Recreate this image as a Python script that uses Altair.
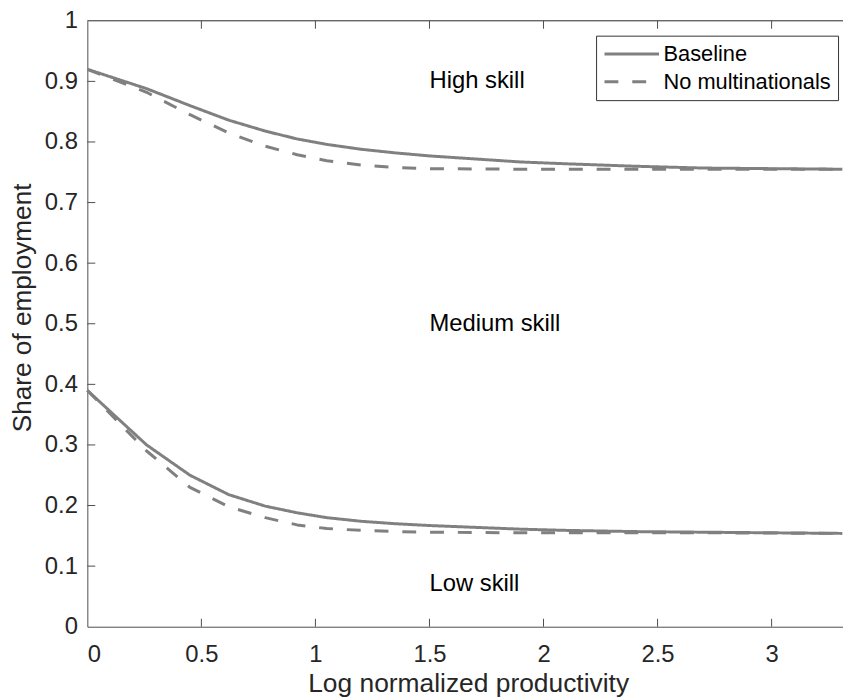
import altair as alt
import pandas as pd

# ---------------- data ----------------
x_grid = [0, 0.26, 0.45, 0.62, 0.78, 0.92, 1.05, 1.2, 1.35, 1.5, 1.7, 1.9,
          2.1, 2.4, 2.7, 3.0, 3.31]
high_baseline = [0.920, 0.888, 0.860, 0.836, 0.818, 0.805, 0.796, 0.788, 0.782,
                 0.777, 0.772, 0.767, 0.764, 0.760, 0.757, 0.756, 0.755]
high_no_mnc = [0.920, 0.882, 0.845, 0.815, 0.793, 0.779, 0.769, 0.762, 0.758,
               0.756, 0.7555, 0.755, 0.755, 0.755, 0.755, 0.755, 0.755]
low_baseline = [0.390, 0.300, 0.250, 0.218, 0.199, 0.188, 0.180, 0.174, 0.170,
                0.167, 0.164, 0.161, 0.159, 0.157, 0.156, 0.155, 0.154]
low_no_mnc = [0.390, 0.290, 0.230, 0.198, 0.180, 0.168, 0.162, 0.159, 0.157,
              0.156, 0.1555, 0.155, 0.155, 0.155, 0.155, 0.1545, 0.154]

scenarios = ["Baseline", "No multinationals"]
x_ticks = [0, 0.5, 1, 1.5, 2, 2.5, 3]
y_ticks = [0, 0.1, 0.2, 0.3, 0.4, 0.5, 0.6, 0.7, 0.8, 0.9, 1]
labels = ["High skill", "Medium skill", "Low skill"]
label_x = [1.5, 1.5, 1.5]
label_y = [0.9, 0.5, 0.07]

X_MAX = 3.313
FONT = "Liberation Sans"
LINE_COLOR = "#808080"
AXIS_COLOR = "#4d4d4d"

# ---------------- tables ----------------
rows = []
for grp, series in (("high", (high_baseline, high_no_mnc)), ("low", (low_baseline, low_no_mnc))):
    for scen, vals in zip(scenarios, series):
        for xv, yv in zip(x_grid, vals):
            rows.append({"x": xv, "y": yv, "scenario": scen, "group": grp + scen})
lines_df = pd.DataFrame(rows)

text_df = pd.DataFrame({"x": label_x, "y": label_y, "label": labels})

tick_len_y = 8 / 611
tick_len_x = 8 / 230
xt_bottom = pd.DataFrame({"x": x_ticks[1:], "y": [0] * 6, "y2": [tick_len_y] * 6})
xt_top = pd.DataFrame({"x": x_ticks[1:], "y": [1] * 6, "y2": [1 - tick_len_y] * 6})
yt_df = pd.DataFrame({"x": [0] * 9, "x2": [tick_len_x] * 9, "y": y_ticks[1:-1]})
top_df = pd.DataFrame({"x": [0], "x2": [X_MAX], "y": [1]})

xscale = alt.Scale(domain=[0, X_MAX], nice=False, zero=False)
yscale = alt.Scale(domain=[0, 1], nice=False)

xaxis = alt.Axis(values=x_ticks, format="~g", title="Log normalized productivity",
                 ticks=False, tickSize=0, labelPadding=16, labelFontSize=24,
                 titleFontSize=26.6, titleFontWeight="normal", titleBaseline="alphabetic",
                 titleY=65, titleX=384, titleAlign="center")
yaxis = alt.Axis(values=y_ticks, format="~g", title="Share of employment",
                 ticks=False, tickSize=0, labelPadding=10, labelFontSize=24,
                 titleFontSize=26.4, titleFontWeight="normal", titleAngle=270,
                 titleBaseline="alphabetic", titleX=-57, titleY=289, titleAlign="center")

X = alt.X("x:Q", scale=xscale, axis=xaxis)
Y = alt.Y("y:Q", scale=yscale, axis=yaxis)

lines = alt.Chart(lines_df).mark_line(
    color=LINE_COLOR, strokeWidth=3, interpolate="linear", strokeCap="butt",
    strokeJoin="round",
).encode(
    x=X, y=Y,
    detail="group:N",
    strokeDash=alt.StrokeDash(
        "scenario:N",
        scale=alt.Scale(domain=scenarios, range=[[1, 0], [14, 14]]),
        legend=alt.Legend(
            title=None, orient="none", legendX=513, legendY=15, direction="vertical",
            fillColor="white", strokeColor="#333333", padding=7,
            symbolType="M-1,0H4.5", symbolSize=400, symbolStrokeWidth=3,
            symbolStrokeColor=LINE_COLOR, symbolFillColor="transparent",
            labelFont=FONT, labelFontSize=22, labelLimit=0,
            labelColor="black", labelOffset=38, rowPadding=5,
        ),
    ),
)

texts = alt.Chart(text_df).mark_text(
    align="left", baseline="middle", fontSize=24, font=FONT, color="black"
).encode(x=X, y=Y, text="label:N")

tick_b = alt.Chart(xt_bottom).mark_rule(color=AXIS_COLOR, strokeWidth=1).encode(x=X, y=Y, y2="y2:Q")
tick_t = alt.Chart(xt_top).mark_rule(color=AXIS_COLOR, strokeWidth=1).encode(x=X, y=Y, y2="y2:Q")
tick_l = alt.Chart(yt_df).mark_rule(color=AXIS_COLOR, strokeWidth=1).encode(x=X, x2="x2:Q", y=Y)
top_border = alt.Chart(top_df).mark_rule(color="#262626", strokeWidth=1).encode(x=X, x2="x2:Q", y=Y)

chart = alt.layer(top_border, tick_b, tick_t, tick_l, lines, texts).properties(
    width=762, height=611,
    autosize=alt.AutoSizeParams(type="none"),
    padding={"left": 80, "top": 10, "right": 0, "bottom": 72},
).configure_view(stroke=None).configure_axis(
    grid=False, domainColor=AXIS_COLOR, domainWidth=1,
    labelFont=FONT, titleFont=FONT, labelColor="#262626", titleColor="#262626",
)

chart.save("out.html", embed_options={"renderer": "svg", "actions": False})
